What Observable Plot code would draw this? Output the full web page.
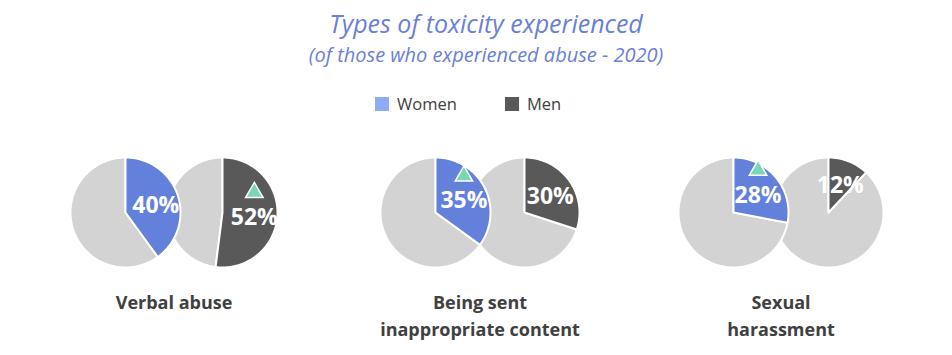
<!DOCTYPE html>
<html><head><meta charset="utf-8">
<script src="https://cdn.jsdelivr.net/npm/d3@7"></script>
<script src="https://cdn.jsdelivr.net/npm/@observablehq/plot@0.6"></script>
<style>
body{margin:0;background:#fff;width:952px;height:355px;overflow:hidden;font-family:"Open Sans",sans-serif;}
#header{position:relative;height:125px;width:952px;}
.ttl{position:absolute;left:10px;width:952px;text-align:center;font-style:italic;color:#6b7fd7;white-space:nowrap;line-height:1;}
#legend{position:absolute;left:375px;top:97px;display:flex;}
.item{display:flex;align-items:center;width:130px;height:14px;}
.sw{width:14px;height:14px;margin-right:8px;flex:none;}
.lab{font-size:16.5px;color:#404040;line-height:1;}
#chart svg{display:block;}
</style></head><body>
<div id="header">
  <div class="ttl" style="top:10.5px;font-size:25px;">Types of toxicity experienced</div>
  <div class="ttl" style="top:44.5px;font-size:20px;">(of those who experienced abuse - 2020)</div>
  <div id="legend"></div>
</div>
<div id="chart"></div>
<script>
// ---- data ----
const categories = ["Verbal abuse", "Being sent\ninappropriate content", "Sexual\nharassment"];
const seriesNames = ["Women", "Men"];
const women = [40, 35, 28];
const men = [52, 30, 12];
const womenMarked = [false, true, true];
const menMarked = [true, false, false];

// ---- styling / layout ----
const colors = {Women: "#6380db", Men: "#595959", Rest: "#d3d3d3"};
const legendColors = {Women: "#8faaf8", Men: "#595959"};
const layout = {width: 952, height: 230, groupX: [173.5, 479.5, 780.5], halfGap: [48.5, 44.5, 47.5], cy: 87, r: 55, labelY: 164, labelDist: 0.58};

// legend
const leg = document.getElementById("legend");
seriesNames.forEach(s => {
  const it = document.createElement("div"); it.className = "item";
  const sw = document.createElement("div"); sw.className = "sw"; sw.style.background = legendColors[s];
  const lb = document.createElement("div"); lb.className = "lab"; lb.textContent = s;
  it.appendChild(sw); it.appendChild(lb); leg.appendChild(it);
});

const pie = d3.pie().sort(null).value(d => d.v);
const rows = [];
const labels = [];
categories.forEach((cat, i) => {
  // men pie first (behind), women pie on top
  [["Men", men[i], menMarked[i]], ["Women", women[i], womenMarked[i]]].forEach(([series, v, marked]) => {
    const cx = layout.groupX[i] + (series === "Women" ? -1 : 1) * layout.halfGap[i];
    const cy = layout.cy, r = layout.r;
    const arcs = pie([{v, part: series}, {v: 100 - v, part: "Rest"}]);
    [arcs[1], arcs[0]].forEach(a => {
      const id = `${i}-${series}-${a.data.part}`;
      const fill = colors[a.data.part];
      const n = Math.max(2, Math.ceil((a.endAngle - a.startAngle) / 0.02));
      rows.push({id, x: cx, y: cy, fill});
      for (let k = 0; k <= n; k++) {
        const t = a.startAngle + (a.endAngle - a.startAngle) * k / n;
        rows.push({id, x: cx + r * Math.sin(t), y: cy - r * Math.cos(t), fill});
      }
      rows.push({id, x: cx, y: cy, fill});
    });
    const mid = (arcs[0].startAngle + arcs[0].endAngle) / 2;
    const d = r * layout.labelDist;
    labels.push({x: cx + d * Math.sin(mid), y: cy - d * Math.cos(mid), text: `${v}%`, marked});
  });
});

const catRows = categories.map((c, i) => ({c, x: layout.groupX[i], y: layout.labelY}));

const chart = Plot.plot({
  width: layout.width,
  height: layout.height,
  margin: 0,
  x: {domain: [0, layout.width], range: [0, layout.width], axis: null},
  y: {domain: [0, layout.height], range: [0, layout.height], axis: null},
  color: {type: "identity"},
  style: {fontFamily: "Open Sans", background: "white"},
  marks: [
    Plot.line(rows, {x: "x", y: "y", z: "id", fill: "fill", stroke: "white", strokeWidth: 2, strokeLinejoin: "round", curve: "linear"}),
    Plot.text(labels, {x: "x", y: "y", dy: 3, text: "text", fill: "white", fontWeight: "bold", fontSize: 23}),
    Plot.dot(labels.filter(d => d.marked), {x: "x", y: "y", dy: -22, symbol: "triangle", r: 6.5, fill: "#7bd6b3", stroke: "white", strokeWidth: 1.5}),
    Plot.text(catRows, {x: "x", y: "y", text: "c", lineAnchor: "top", fontSize: 18, fontWeight: "bold", fill: "#404040", lineHeight: 1.5})
  ]
});
document.getElementById("chart").appendChild(chart);
</script>
</body></html>
